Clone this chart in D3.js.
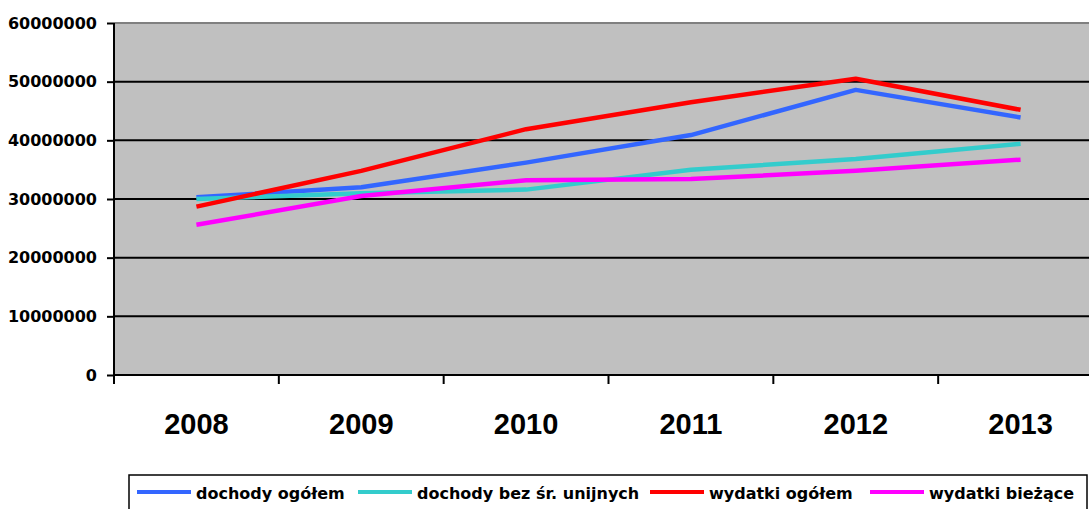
<!DOCTYPE html>
<html>
<head>
<meta charset="utf-8">
<script src="https://cdn.jsdelivr.net/npm/d3@7"></script>
<style>
  body { margin: 0; background: #fff; }
  svg { display: block; }
</style>
</head>
<body>
<div id="chart"></div>
<script>
// data
var years = ["2008", "2009", "2010", "2011", "2012", "2013"];
var yTicks = [0, 10000000, 20000000, 30000000, 40000000, 50000000, 60000000];

var dochodyOgolem = [30300000, 32000000, 36200000, 40900000, 48600000, 43900000];
var dochodyBezUE  = [30000000, 31000000, 31600000, 35000000, 36800000, 39400000];
var wydatkiOgolem = [28700000, 34800000, 41900000, 46500000, 50500000, 45200000];
var wydatkiBiezace = [25600000, 30500000, 33200000, 33400000, 34800000, 36700000];

var seriesNames = ["dochody ogółem", "dochody bez śr. unijnych", "wydatki ogółem", "wydatki bieżące"];
var seriesColors = ["#3366ff", "#33cccc", "#ff0000", "#ff00ff"];
var seriesValues = [dochodyOgolem, dochodyBezUE, wydatkiOgolem, wydatkiBiezace];

var width = 1089, height = 509;
var plot = {left: 114, top: 23, right: 1103, bottom: 375};

var svg = d3.select("#chart")
  .append("svg")
  .attr("width", width)
  .attr("height", height);

var x = d3.scaleBand()
  .domain(years)
  .range([plot.left, plot.right]);

var y = d3.scaleLinear()
  .domain([0, 60000000])
  .range([plot.bottom, plot.top]);

// plot background
svg.append("rect")
  .attr("x", plot.left)
  .attr("y", plot.top)
  .attr("width", plot.right - plot.left)
  .attr("height", plot.bottom - plot.top)
  .attr("fill", "#c0c0c0");

// top border
svg.append("line")
  .attr("x1", plot.left).attr("x2", plot.right)
  .attr("y1", plot.top).attr("y2", plot.top)
  .attr("stroke", "#808080")
  .attr("stroke-width", 2);

// gridlines
svg.append("g")
  .selectAll("line")
  .data(yTicks.filter(function(d) { return d > 0 && d < 60000000; }))
  .enter().append("line")
    .attr("x1", plot.left).attr("x2", plot.right)
    .attr("y1", function(d) { return y(d); })
    .attr("y2", function(d) { return y(d); })
    .attr("stroke", "#000")
    .attr("stroke-width", 2);

// y axis
var yAxis = svg.append("g")
  .attr("transform", "translate(" + plot.left + ",0)")
  .call(d3.axisLeft(y).tickValues(yTicks).tickSize(7).tickPadding(10).tickFormat(d3.format("d")));
yAxis.select(".domain").attr("stroke", "#000").attr("stroke-width", 2)
  .attr("d", "M0," + plot.top + "V" + plot.bottom);
yAxis.selectAll(".tick line").attr("stroke", "#000").attr("stroke-width", 2);
yAxis.selectAll(".tick text")
  .attr("fill", "#000")
  .style("font-family", "DejaVu Sans")
  .style("font-weight", "bold")
  .style("font-size", "16px");

// x axis
var xAxis = svg.append("g")
  .attr("transform", "translate(0," + plot.bottom + ")")
  .call(d3.axisBottom(x).tickSize(0).tickPadding(0));
xAxis.select(".domain").attr("stroke", "#000").attr("stroke-width", 2)
  .attr("d", "M" + plot.left + ",0H" + plot.right);
xAxis.selectAll(".tick text")
  .attr("y", 59)
  .attr("dy", 0)
  .attr("fill", "#000")
  .style("font-family", "Liberation Sans")
  .style("font-weight", "bold")
  .style("font-size", "29px");

// category boundary ticks
svg.append("g")
  .selectAll("line")
  .data(years)
  .enter().append("line")
    .attr("x1", function(d) { return x(d); })
    .attr("x2", function(d) { return x(d); })
    .attr("y1", plot.bottom)
    .attr("y2", plot.bottom + 9)
    .attr("stroke", "#000")
    .attr("stroke-width", 2);

// lines
var line = d3.line()
  .x(function(d, i) { return x(years[i]) + x.bandwidth() / 2; })
  .y(function(d) { return y(d); });

svg.append("g")
  .selectAll("path")
  .data(seriesValues)
  .enter().append("path")
    .attr("d", function(d) { return line(d); })
    .attr("fill", "none")
    .attr("stroke", function(d, i) { return seriesColors[i]; })
    .attr("stroke-width", 4.5)
    .attr("stroke-linejoin", "round");

// legend
var legend = svg.append("g");
legend.append("rect")
  .attr("x", 129)
  .attr("y", 475)
  .attr("width", 958)
  .attr("height", 50)
  .attr("fill", "#fff")
  .attr("stroke", "#000")
  .attr("stroke-width", 1.5);

var legendX = [137, 358, 650, 870];
var item = legend.selectAll(".item")
  .data(seriesNames)
  .enter().append("g")
    .attr("class", "item")
    .attr("transform", function(d, i) { return "translate(" + legendX[i] + ",0)"; });
item.append("line")
  .attr("x1", 0).attr("x2", 54)
  .attr("y1", 492).attr("y2", 492)
  .attr("stroke", function(d, i) { return seriesColors[i]; })
  .attr("stroke-width", 4);
item.append("text")
  .attr("x", 59)
  .attr("y", 499)
  .attr("fill", "#000")
  .style("font-family", "DejaVu Sans")
  .style("font-weight", "bold")
  .style("font-size", "16px")
  .text(function(d) { return d; });
</script>
</body>
</html>
